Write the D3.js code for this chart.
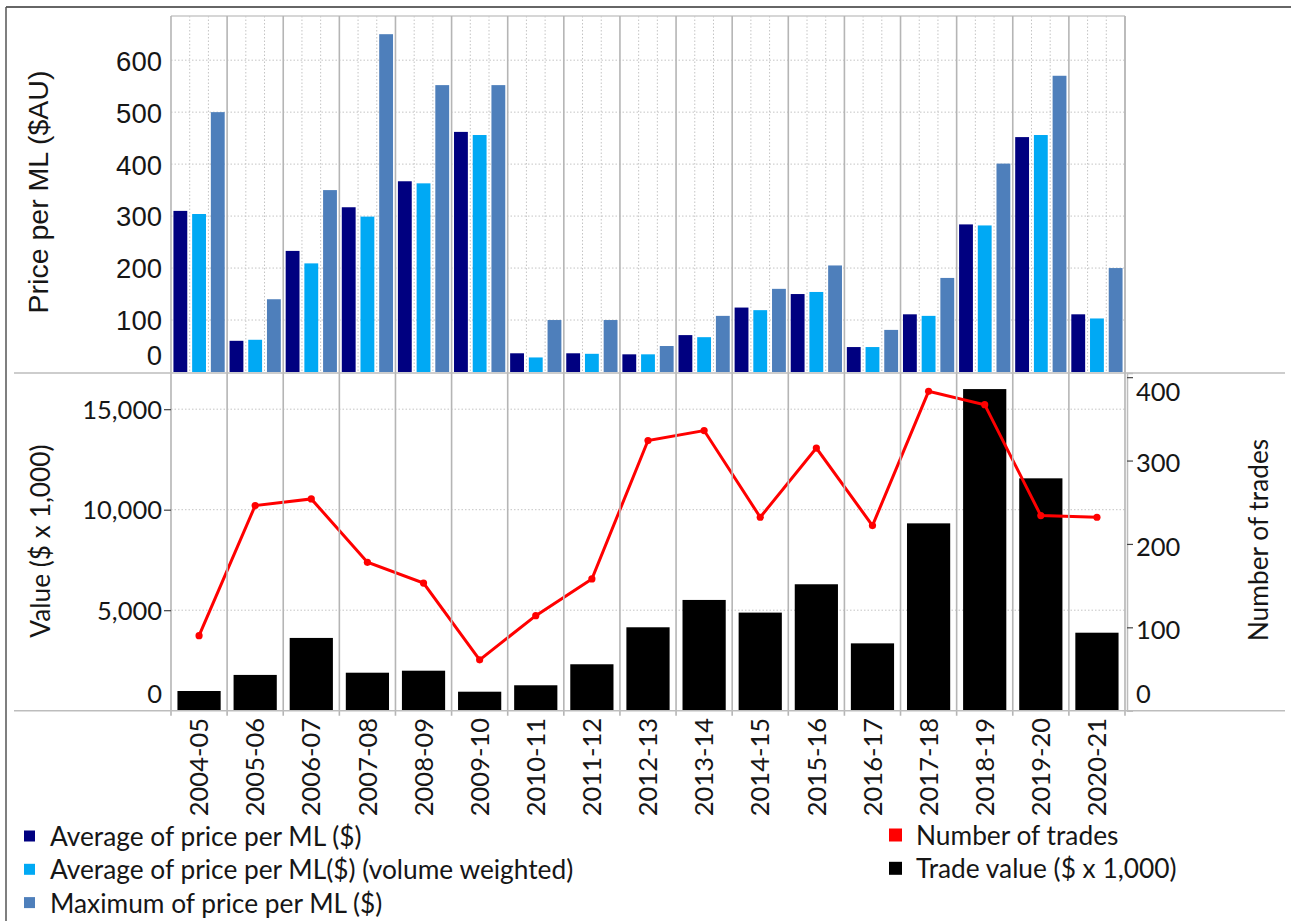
<!DOCTYPE html>
<html>
<head>
<meta charset="utf-8">
<script src="https://cdn.jsdelivr.net/npm/d3@7"></script>
<style>
  html, body { margin: 0; padding: 0; background: #fff; }
  svg { display: block; }
</style>
</head>
<body>
<svg id="chart" width="1291" height="921"></svg>
<script>
// ---------- DATA ----------
const categories = ["2004-05","2005-06","2006-07","2007-08","2008-09","2009-10","2010-11","2011-12","2012-13","2013-14","2014-15","2015-16","2016-17","2017-18","2018-19","2019-20","2020-21"];
const avgPrice   = [310, 60, 233, 317, 367, 462, 36, 36, 34, 71, 124, 150, 48, 111, 284, 452, 111];
const avgPriceVW = [304, 62, 209, 299, 363, 456, 28, 35, 34, 67, 119, 154, 48, 108, 282, 456, 103];
const maxPrice   = [500, 140, 350, 650, 552, 552, 100, 100, 50, 108, 160, 205, 81, 181, 401, 570, 200];
const tradeValue = [980, 1780, 3620, 1890, 1990, 945, 1265, 2310, 4150, 5510, 4880, 6290, 3350, 9320, 16000, 11560, 3880];
const numTrades  = [90, 246, 254, 178, 153, 61, 114, 158, 324, 336, 232, 315, 222, 383, 367, 234, 232];
const priceTicks = [0, 100, 200, 300, 400, 500, 600];
const valueTicks = [0, 5000, 10000, 15000];
const tradeTicks = [0, 100, 200, 300, 400];
const priceSeries = ["Average of price per ML ($)", "Average of price per ML($) (volume weighted)", "Maximum of price per ML ($)"];
const tradeSeries = ["Number of trades", "Trade value ($ x 1,000)"];

// ---------- STYLE ----------
const priceColors = ["#000080", "#00a9f4", "#4e7fbb"];
const tradeColors = ["#ff0000", "#000000"];
const calibri = "Lato, 'Open Sans', sans-serif";
const arial = "'Liberation Sans', Arial, sans-serif";
const textCol = "#161616";
const gridCol = "#c4c4c4";
const sepCol = "#b5b5b5";
const numSize = 25.5;
const txtSize = 26.3;

const svg = d3.select("#chart");

// frame
svg.append("line").attr("x1", 6).attr("x2", 1291).attr("y1", 7).attr("y2", 7).attr("stroke", "#333").attr("stroke-width", 1.5);
svg.append("line").attr("x1", 6).attr("x2", 6).attr("y1", 7).attr("y2", 921).attr("stroke", "#555").attr("stroke-width", 1.5);

// ---------- SCALES ----------
const left = 171, right = 1125;
const topT = 16, baseT = 372;
const topB = 373, baseB = 710.7;

const x = d3.scaleBand().domain(categories).range([left, right]).padding(0);
const bw = x.bandwidth();
const xSub = d3.scaleBand().domain(d3.range(3)).range([0, bw]).paddingInner(0.26).paddingOuter(0.13);
const xBlack = d3.scaleBand().domain(categories).range([left, right]).paddingInner(0.23).paddingOuter(0.115);

const yPrice = d3.scaleLinear().domain([0, 685]).range([baseT, topT]);
const yValue = d3.scaleLinear().domain([0, 16800]).range([baseB, topB]);
const yTrades = d3.scaleLinear().domain([0, 405]).range([baseB, topB]);

// ---------- TOP PANEL GRID ----------
const gTop = svg.append("g");
gTop.selectAll("line.hg").data(priceTicks.filter(d => d > 0)).join("line")
  .attr("x1", left).attr("x2", right)
  .attr("y1", d => yPrice(d)).attr("y2", d => yPrice(d))
  .attr("stroke", gridCol).attr("stroke-dasharray", "1.5,2").attr("stroke-width", 1);
categories.forEach(c => {
  [1, 2].forEach(k => {
    gTop.append("line")
      .attr("x1", x(c) + bw * k / 3).attr("x2", x(c) + bw * k / 3)
      .attr("y1", topT).attr("y2", baseT)
      .attr("stroke", gridCol).attr("stroke-dasharray", "1.5,2").attr("stroke-width", 1);
  });
});
gTop.append("line").attr("x1", left).attr("x2", right).attr("y1", topT).attr("y2", topT).attr("stroke", "#c8c8c8").attr("stroke-width", 1.5);
gTop.append("line").attr("x1", right).attr("x2", right).attr("y1", topT).attr("y2", baseT).attr("stroke", "#c8c8c8").attr("stroke-width", 1.5);

// ---------- BOTTOM PANEL GRID ----------
const gBot = svg.append("g");
gBot.selectAll("line.hg").data(valueTicks.filter(d => d > 0)).join("line")
  .attr("x1", left).attr("x2", right)
  .attr("y1", d => yValue(d)).attr("y2", d => yValue(d))
  .attr("stroke", gridCol).attr("stroke-dasharray", "1.5,2").attr("stroke-width", 1);

// category separators spanning both panels
const bounds = categories.map(c => x(c)).concat([right]);
svg.append("g").selectAll("line").data(bounds).join("line")
  .attr("x1", d => d).attr("x2", d => d)
  .attr("y1", topT).attr("y2", baseB + 5)
  .attr("stroke", sepCol).attr("stroke-width", 1.6);

// ---------- TOP BARS ----------
const priceArrays = [avgPrice, avgPriceVW, maxPrice];
priceArrays.forEach((arr, k) => {
  gTop.append("g").selectAll("rect").data(categories).join("rect")
    .attr("x", c => x(c) + xSub(k))
    .attr("width", xSub.bandwidth())
    .attr("y", (c, i) => yPrice(arr[i]))
    .attr("height", (c, i) => baseT - yPrice(arr[i]))
    .attr("fill", priceColors[k]);
});

// ---------- BOTTOM BARS + LINE ----------
gBot.append("g").selectAll("rect").data(categories).join("rect")
  .attr("x", c => xBlack(c))
  .attr("width", xBlack.bandwidth())
  .attr("y", (c, i) => yValue(tradeValue[i]))
  .attr("height", (c, i) => baseB - yValue(tradeValue[i]))
  .attr("fill", tradeColors[1]);

const line = d3.line()
  .x((d, i) => x(categories[i]) + bw / 2)
  .y(d => yTrades(d));
gBot.append("path").datum(numTrades)
  .attr("d", line).attr("fill", "none")
  .attr("stroke", tradeColors[0]).attr("stroke-width", 3).attr("stroke-linejoin", "miter");
gBot.append("g").selectAll("circle").data(numTrades).join("circle")
  .attr("cx", (d, i) => x(categories[i]) + bw / 2)
  .attr("cy", d => yTrades(d))
  .attr("r", 3.6).attr("fill", tradeColors[0]);

// panel separator lines
svg.append("line").attr("x1", 14).attr("x2", 1285).attr("y1", 373).attr("y2", 373).attr("stroke", "#bdbdbd").attr("stroke-width", 1.5);
svg.append("line").attr("x1", 14).attr("x2", 1285).attr("y1", baseB).attr("y2", baseB).attr("stroke", "#bdbdbd").attr("stroke-width", 1.5);

// ---------- AXES ----------
const axTop = svg.append("g").attr("transform", `translate(${left},0)`)
  .call(d3.axisLeft(yPrice).tickValues(priceTicks).tickSize(0).tickPadding(9));
axTop.select(".domain").remove();
axTop.selectAll("text")
  .attr("font-family", arial).attr("font-size", 27.5).attr("fill", textCol)
  .attr("dy", "0.36em")
  .attr("y", d => d === 0 ? -17 : 0);

const axVal = svg.append("g").attr("transform", `translate(${left},0)`)
  .call(d3.axisLeft(yValue).tickValues(valueTicks).tickSize(7).tickPadding(2).tickFormat(d3.format(",")));
axVal.select(".domain").remove();
axVal.selectAll("line").attr("stroke", "#444").attr("stroke-width", 1.2).attr("opacity", d => d === 0 ? 0 : 1);
axVal.selectAll("text")
  .attr("font-family", calibri).attr("font-size", numSize).attr("fill", textCol)
  .attr("dy", "0.36em")
  .attr("y", d => d === 0 ? -17 : 0);

const axTr = svg.append("g").attr("transform", `translate(1127,0)`)
  .call(d3.axisRight(yTrades).tickValues(tradeTicks).tickSize(6).tickPadding(3));
axTr.select(".domain").attr("stroke", "#bdbdbd").attr("stroke-width", 1.5);
axTr.selectAll("line").attr("stroke", "#444").attr("stroke-width", 1.2).attr("opacity", d => d === 0 ? 0 : 1);
axTr.selectAll("text")
  .attr("font-family", calibri).attr("font-size", numSize).attr("fill", textCol)
  .attr("dy", "0.36em")
  .attr("y", d => d === 0 ? -17 : (d === 400 ? 14 : 2));

// x axis labels
svg.append("g").selectAll("text").data(categories).join("text")
  .attr("transform", c => `translate(${x(c) + bw / 2},718) rotate(-90)`)
  .attr("text-anchor", "end").attr("dy", "0.36em")
  .attr("font-family", calibri).attr("font-size", numSize).attr("fill", textCol)
  .text(c => c);

// axis titles
svg.append("text").attr("transform", "translate(48,192) rotate(-90)")
  .attr("text-anchor", "middle").attr("font-family", arial).attr("font-size", 28.5).attr("fill", textCol)
  .text("Price per ML ($AU)");
svg.append("text").attr("transform", "translate(50,541) rotate(-90)")
  .attr("text-anchor", "middle").attr("font-family", calibri).attr("font-size", txtSize).attr("fill", textCol)
  .text("Value ($ x 1,000)");
svg.append("text").attr("transform", "translate(1268,540) rotate(-90)")
  .attr("text-anchor", "middle").attr("font-family", calibri).attr("font-size", txtSize).attr("fill", textCol)
  .text("Number of trades");

// ---------- LEGENDS ----------
const legL = svg.append("g");
priceSeries.forEach((s, i) => {
  const cy = 836.5 + i * 33.3;
  legL.append("rect").attr("x", 24).attr("y", cy - 6).attr("width", 11).attr("height", 11).attr("fill", priceColors[i]);
  legL.append("text").attr("x", 50).attr("y", cy).attr("dy", "0.36em")
    .attr("font-family", calibri).attr("font-size", txtSize).attr("fill", textCol).text(s);
});
const legR = svg.append("g");
tradeSeries.forEach((s, i) => {
  const cy = 835.5 + i * 33.3;
  legR.append("rect").attr("x", 889).attr("y", cy - 7).attr("width", 13).attr("height", 13).attr("fill", tradeColors[i]);
  legR.append("text").attr("x", 916).attr("y", cy).attr("dy", "0.36em")
    .attr("font-family", calibri).attr("font-size", txtSize).attr("fill", textCol).text(s);
});
</script>
</body>
</html>
